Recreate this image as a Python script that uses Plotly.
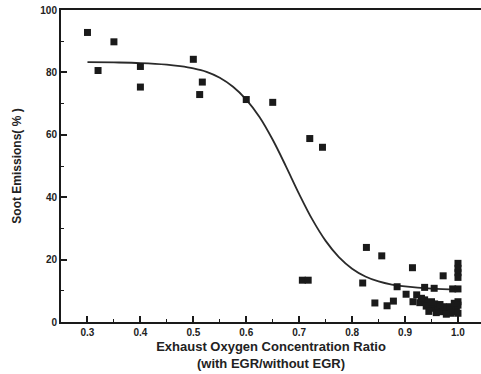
import plotly.graph_objects as go

# Measured soot emissions vs. exhaust oxygen concentration ratio
ratio = [0.300, 0.320, 0.350, 0.400, 0.400, 0.500, 0.517, 0.512, 0.600, 0.650,
         0.720, 0.744, 0.706, 0.717, 0.827, 0.820, 0.856, 0.843, 0.866, 0.878,
         0.885, 0.914, 0.902, 0.922, 0.937, 0.955, 0.972, 0.990, 1.000,
         1.000, 1.000, 1.000, 1.000,
         0.915, 0.928, 0.937, 0.940, 0.950, 0.956, 0.962, 0.969, 0.978, 0.984,
         0.991, 0.997, 1.000, 1.000, 1.000, 0.931, 0.950, 0.972, 0.959, 0.987,
         0.978, 0.945, 0.966, 0.993]
soot = [92.8, 80.6, 89.8, 81.9, 75.3, 84.2, 76.9, 72.9, 71.3, 70.4,
        58.8, 56.0, 13.4, 13.4, 23.9, 12.5, 21.2, 6.1, 5.2, 6.7,
        11.3, 17.4, 8.9, 8.7, 11.1, 10.8, 14.8, 10.6, 10.6,
        18.8, 17.2, 15.8, 14.3,
        6.5, 6.2, 7.1, 5.1, 4.4, 5.8, 3.9, 3.3, 3.6, 4.9,
        3.3, 4.4, 6.5, 2.8, 5.4, 7.6, 6.5, 4.9, 3.0, 2.8,
        2.5, 3.4, 5.6, 6.0]

# Fitted trend line
fit_ratio = [0.300, 0.350, 0.400, 0.450, 0.475, 0.500, 0.525, 0.550, 0.575,
             0.600, 0.625, 0.650, 0.675, 0.700, 0.725, 0.750, 0.775, 0.800,
             0.825, 0.850, 0.875, 0.900, 0.950, 1.000]
fit_soot = [83.3, 83.2, 83.0, 82.5, 82.0, 81.3, 80.2, 78.3, 75.4,
            71.3, 65.7, 58.4, 49.9, 41.0, 32.8, 26.0, 20.8, 17.1,
            14.6, 13.0, 12.0, 11.4, 10.7, 10.4]

x_ticks = [0.3, 0.4, 0.5, 0.6, 0.7, 0.8, 0.9, 1.0]
y_ticks = [0, 20, 40, 60, 80, 100]

ink = "#1a1a1a"
font_family = "Liberation Sans, Arial, sans-serif"

fig = go.Figure()
fig.add_trace(go.Scatter(
    x=fit_ratio, y=fit_soot, mode="lines", line_shape="spline",
    line=dict(color="#2a2a2a", width=1.8), hoverinfo="skip", showlegend=False))
fig.add_trace(go.Scatter(
    x=ratio, y=soot, mode="markers",
    marker=dict(symbol="square", size=7, color=ink, line=dict(width=0)),
    showlegend=False))

fig.update_xaxes(
    range=[0.25, 1.0435], showgrid=False, zeroline=False,
    showline=True, linecolor=ink, linewidth=2, mirror=True,
    ticks="inside", ticklen=6, tickwidth=1.5, tickcolor=ink,
    tickvals=x_ticks, ticktext=[f"<b>{v:.1f}</b>" for v in x_ticks],
    tickfont=dict(family=font_family, size=10, color="#222"),
    minor=dict(ticks="inside", ticklen=3, tickwidth=1.2, tickcolor=ink, dtick=0.05, tick0=0.25),
    title=dict(text="<b>Exhaust Oxygen Concentration Ratio</b><br><b>(with EGR/without EGR)</b>",
               font=dict(family=font_family, size=13, color="#222"), standoff=5),
)
fig.update_yaxes(
    range=[0, 100], showgrid=False, zeroline=False,
    showline=True, linecolor=ink, linewidth=2, mirror=False,
    ticks="inside", ticklen=6, tickwidth=1.5, tickcolor=ink,
    tickvals=y_ticks, ticktext=[f"<b>{v}</b>" for v in y_ticks],
    tickfont=dict(family=font_family, size=10, color="#222"),
    minor=dict(ticks="inside", ticklen=3, tickwidth=1.2, tickcolor=ink, dtick=10, tick0=0),
    title=dict(text="<b>Soot Emissions( % )</b>",
               font=dict(family=font_family, size=12, color="#222"), standoff=16),
)
fig.update_layout(
    width=481, height=374,
    margin=dict(l=61, r=0, t=10, b=52),
    paper_bgcolor="white", plot_bgcolor="white",
)
fig.write_html("out.html")
